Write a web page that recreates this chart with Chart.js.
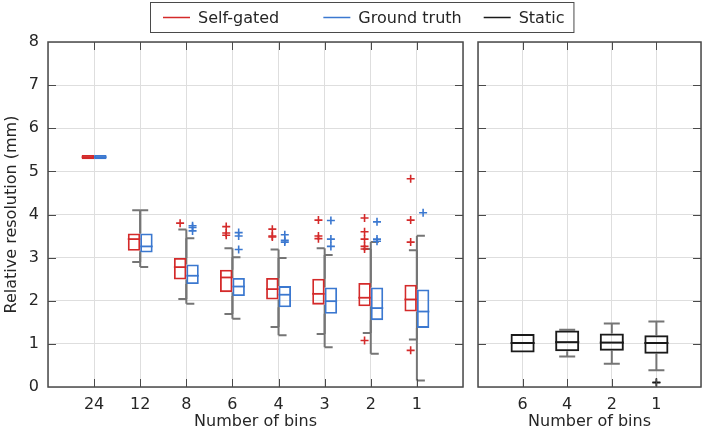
<!DOCTYPE html>
<html>
<head>
<meta charset="utf-8">
<script src="https://cdn.jsdelivr.net/npm/chart.js@4.4.0/dist/chart.umd.min.js"></script>
<style>
html, body { margin: 0; padding: 0; background: #fff; }
#wrap { position: relative; width: 709px; height: 431px; }
canvas { position: absolute; left: 0; top: 0; }
</style>
</head>
<body>
<div id="wrap">
  <canvas id="left" width="709" height="431"></canvas>
  <canvas id="right" width="709" height="431"></canvas>
</div>
<script>
// bins along the x axis of each panel
const bins = ['24', '12', '8', '6', '4', '3', '2', '1'];
const staticBins = ['6', '4', '2', '1'];

// Self-gated box stats (mm)
const sgQ1  = [5.28, 3.16, 2.49, 2.20, 2.03, 1.91, 1.87, 1.75];
const sgMed = [5.33, 3.43, 2.78, 2.54, 2.27, 2.16, 2.07, 2.03];
const sgQ3  = [5.38, 3.56, 2.99, 2.72, 2.53, 2.51, 2.41, 2.37];
const sgLo  = [5.28, 2.90, 2.04, 1.69, 1.39, 1.23, 1.25, 1.10];
const sgHi  = [5.38, 4.10, 3.65, 3.22, 3.19, 3.22, 3.20, 3.17];
const sgOut = [[], [], [3.80], [3.72, 3.57, 3.52], [3.66, 3.50, 3.48], [3.87, 3.50, 3.44],
               [3.92, 3.60, 3.43, 3.26, 3.20, 1.08], [4.83, 3.87, 3.36, 0.85]];

// Ground truth box stats
const gtQ1  = [5.28, 3.12, 2.39, 2.11, 1.85, 1.70, 1.55, 1.37];
const gtMed = [5.33, 3.26, 2.58, 2.33, 2.14, 1.99, 1.83, 1.75];
const gtQ3  = [5.38, 3.56, 2.84, 2.53, 2.34, 2.31, 2.31, 2.26];
const gtLo  = [5.28, 2.78, 1.93, 1.58, 1.20, 0.92, 0.77, 0.15];
const gtHi  = [5.38, 4.10, 3.45, 3.01, 2.99, 3.06, 3.36, 3.51];
const gtOut = [[], [], [3.74, 3.70, 3.62], [3.58, 3.50, 3.19], [3.53, 3.40, 3.36], [3.86, 3.43, 3.26],
               [3.83, 3.43, 3.38], [4.04]];

// Static box stats
const stQ1  = [0.80, 0.83, 0.84, 0.77];
const stMed = [1.02, 1.04, 1.03, 1.02];
const stQ3  = [1.23, 1.31, 1.24, 1.20];
const stLo  = [0.80, 0.71, 0.54, 0.39];
const stHi  = [1.23, 1.33, 1.47, 1.52];
const stOut = [[], [], [], [0.11, 0.10]];

const yTicks = [0, 1, 2, 3, 4, 5, 6, 7, 8];

const RED = '#d42a2a';
const BLUE = '#3b78d0';
const BLACK = '#1a1a1a';
const WHISKER = '#757575';
const AXIS = '#4a4a4a';
const GRID = '#dedede';
const FONT = '"DejaVu Sans", Verdana, sans-serif';

Chart.defaults.font.family = FONT;
Chart.defaults.font.size = 16;
Chart.defaults.color = '#262626';

const catPct = 0.54;

function boxes(q1, q3) {
    return q1.map((v, i) => ({ x: i + 1, y: [v, q3[i]] }));
}
function outliers(out, shift) {
    const pts = [];
    out.forEach((list, i) => list.forEach(v => pts.push({ x: i + 1 + shift, y: v })));
    return pts;
}

// whiskers, medians, box border and inward ticks
const boxParts = {
    id: 'boxParts',
    beforeDatasetsDraw(chart) {
        const ctx = chart.ctx, ys = chart.scales.y;
        chart.data.datasets.forEach((ds, di) => {
            if (!ds.stats) return;
            const meta = chart.getDatasetMeta(di);
            const s = ds.stats, side = ds.capSide;
            ctx.save();
            ctx.strokeStyle = WHISKER;
            ctx.lineWidth = 2;
            meta.data.forEach((bar, i) => {
                const edge = bar.x - side * bar.width / 2;
                const yLo = ys.getPixelForValue(s.lo[i]), yHi = ys.getPixelForValue(s.hi[i]);
                const yQ1 = ys.getPixelForValue(s.q1[i]), yQ3 = ys.getPixelForValue(s.q3[i]);
                ctx.beginPath();
                ctx.moveTo(edge, yQ3); ctx.lineTo(edge, yHi);
                ctx.moveTo(edge, yQ1); ctx.lineTo(edge, yLo);
                const a = side === 0 ? edge - 8 : edge;
                const b = side === 0 ? edge + 8 : edge + side * 8;
                if (s.hi[i] > s.q3[i]) { ctx.moveTo(a, yHi); ctx.lineTo(b, yHi); }
                if (s.lo[i] < s.q1[i]) { ctx.moveTo(a, yLo); ctx.lineTo(b, yLo); }
                ctx.stroke();
            });
            ctx.restore();
        });
    },
    afterDatasetsDraw(chart) {
        const ctx = chart.ctx, ys = chart.scales.y;
        chart.data.datasets.forEach((ds, di) => {
            if (!ds.stats) return;
            const meta = chart.getDatasetMeta(di);
            ctx.save();
            ctx.strokeStyle = ds.borderColor;
            ctx.lineWidth = ds.borderWidth;
            meta.data.forEach((bar, i) => {
                const y = ys.getPixelForValue(ds.stats.med[i]);
                ctx.beginPath();
                ctx.moveTo(bar.x - bar.width / 2, y);
                ctx.lineTo(bar.x + bar.width / 2, y);
                ctx.stroke();
            });
            ctx.restore();
        });
    },
    afterDraw(chart) {
        const ctx = chart.ctx, a = chart.chartArea;
        const xs = chart.scales.x, ys = chart.scales.y;
        ctx.save();
        ctx.strokeStyle = AXIS;
        ctx.lineWidth = 1;
        ctx.beginPath();
        xs.ticks.forEach(t => {
            if (t.value <= xs.min || t.value >= xs.max) return;
            const x = Math.round(xs.getPixelForValue(t.value)) + 0.5;
            ctx.moveTo(x, a.bottom); ctx.lineTo(x, a.bottom - 8);
            ctx.moveTo(x, a.top); ctx.lineTo(x, a.top + 8);
        });
        ys.ticks.forEach(t => {
            if (t.value <= ys.min || t.value >= ys.max) return;
            const y = Math.round(ys.getPixelForValue(t.value)) + 0.5;
            ctx.moveTo(a.left, y); ctx.lineTo(a.left + 8, y);
            ctx.moveTo(a.right, y); ctx.lineTo(a.right - 8, y);
        });
        ctx.stroke();
        ctx.lineWidth = 1.5;
        ctx.strokeRect(a.left, a.top, a.right - a.left, a.bottom - a.top);
        ctx.restore();
    }
};

// legend box spanning both panels, equal slot per entry
const seriesNames = ['Self-gated', 'Ground truth', 'Static'];
const seriesColors = [RED, BLUE, BLACK];
const legendBox = {
    id: 'legendBox',
    afterDraw(chart) {
        const ctx = chart.ctx;
        ctx.save();
        ctx.font = '16px ' + FONT;
        const padL = 13, padR = 9, line = 27, gap = 8, space = 22;
        const widths = seriesNames.map(n => ctx.measureText(n).width);
        const slot = line + gap + Math.max(...widths) + space;
        const left = 150, top = 2, h = 30;
        const w = padL + slot * (seriesNames.length - 1) + line + gap + widths[widths.length - 1] + padR;
        ctx.fillStyle = '#fff';
        ctx.fillRect(left, top, w, h);
        ctx.strokeStyle = AXIS;
        ctx.lineWidth = 1;
        ctx.strokeRect(left + 0.5, top + 0.5, w, h);
        const cy = top + h / 2 + 0.5;
        ctx.textBaseline = 'middle';
        seriesNames.forEach((n, i) => {
            const x = left + padL + i * slot;
            ctx.strokeStyle = seriesColors[i];
            ctx.lineWidth = 1.5;
            ctx.beginPath();
            ctx.moveTo(x, cy); ctx.lineTo(x + line, cy);
            ctx.stroke();
            ctx.fillStyle = '#262626';
            ctx.fillText(n, x + line + gap, cy + 1);
        });
        ctx.restore();
    }
};

function axes(xMax, labels, showY, yWidth) {
    return {
        x: {
            type: 'linear', min: 0, max: xMax, offset: false,
            ticks: { stepSize: 1, padding: 8, autoSkip: false, maxRotation: 0,
                     callback: v => labels[v - 1] || '' },
            grid: { color: GRID, drawTicks: false, offset: false },
            border: { display: false },
            title: { display: true, text: 'Number of bins', padding: { top: 0, bottom: 0 } },
            afterFit: s => { s.height = 44; }
        },
        y: {
            min: 0, max: 8,
            afterBuildTicks: s => { s.ticks = yTicks.map(v => ({ value: v })); },
            ticks: { display: showY, padding: 9 },
            grid: { color: GRID, drawTicks: false },
            border: { display: false },
            title: { display: showY, text: 'Relative resolution (mm)', padding: { top: 2, bottom: 0 } },
            afterFit: s => { s.width = yWidth; }
        }
    };
}

const sgOff = -catPct / 4, gtOff = catPct / 4;

new Chart(document.getElementById('left'), {
    type: 'bar',
    data: {
        datasets: [
            { label: 'Self-gated', data: boxes(sgQ1, sgQ3), borderColor: RED, borderWidth: 1.8,
              backgroundColor: 'rgba(0,0,0,0)', borderSkipped: false,
              categoryPercentage: catPct, barPercentage: 1, capSide: -1,
              stats: { q1: sgQ1, q3: sgQ3, med: sgMed, lo: sgLo, hi: sgHi } },
            { label: 'Ground truth', data: boxes(gtQ1, gtQ3), borderColor: BLUE, borderWidth: 1.8,
              backgroundColor: 'rgba(0,0,0,0)', borderSkipped: false,
              categoryPercentage: catPct, barPercentage: 1, capSide: 1,
              stats: { q1: gtQ1, q3: gtQ3, med: gtMed, lo: gtLo, hi: gtHi } },
            { type: 'scatter', label: 'Self-gated outliers', data: outliers(sgOut, sgOff),
              pointStyle: 'cross', pointRadius: 4, pointBorderWidth: 1.6,
              borderColor: RED, backgroundColor: RED },
            { type: 'scatter', label: 'Ground truth outliers', data: outliers(gtOut, gtOff),
              pointStyle: 'cross', pointRadius: 4, pointBorderWidth: 1.6,
              borderColor: BLUE, backgroundColor: BLUE }
        ]
    },
    options: {
        responsive: false,
        animation: false,
        layout: { padding: { top: 42, right: 246, left: 0, bottom: 0 } },
        plugins: { legend: { display: false }, tooltip: { enabled: false } },
        scales: axes(9, bins, true, 48)
    },
    plugins: [boxParts, legendBox]
});

new Chart(document.getElementById('right'), {
    type: 'bar',
    data: {
        datasets: [
            { label: 'Static', data: boxes(stQ1, stQ3), borderColor: BLACK, borderWidth: 2,
              backgroundColor: 'rgba(0,0,0,0)', borderSkipped: false,
              categoryPercentage: catPct, barPercentage: 1, capSide: 0,
              stats: { q1: stQ1, q3: stQ3, med: stMed, lo: stLo, hi: stHi } },
            { type: 'scatter', label: 'Static outliers', data: outliers(stOut, 0),
              pointStyle: 'cross', pointRadius: 4, pointBorderWidth: 1.5,
              borderColor: BLACK, backgroundColor: BLACK }
        ]
    },
    options: {
        responsive: false,
        animation: false,
        layout: { padding: { top: 42, right: 1, left: 478, bottom: 0 } },
        plugins: { legend: { display: false }, tooltip: { enabled: false } },
        scales: axes(5, staticBins, false, 0)
    },
    plugins: [boxParts]
});
</script>
</body>
</html>
